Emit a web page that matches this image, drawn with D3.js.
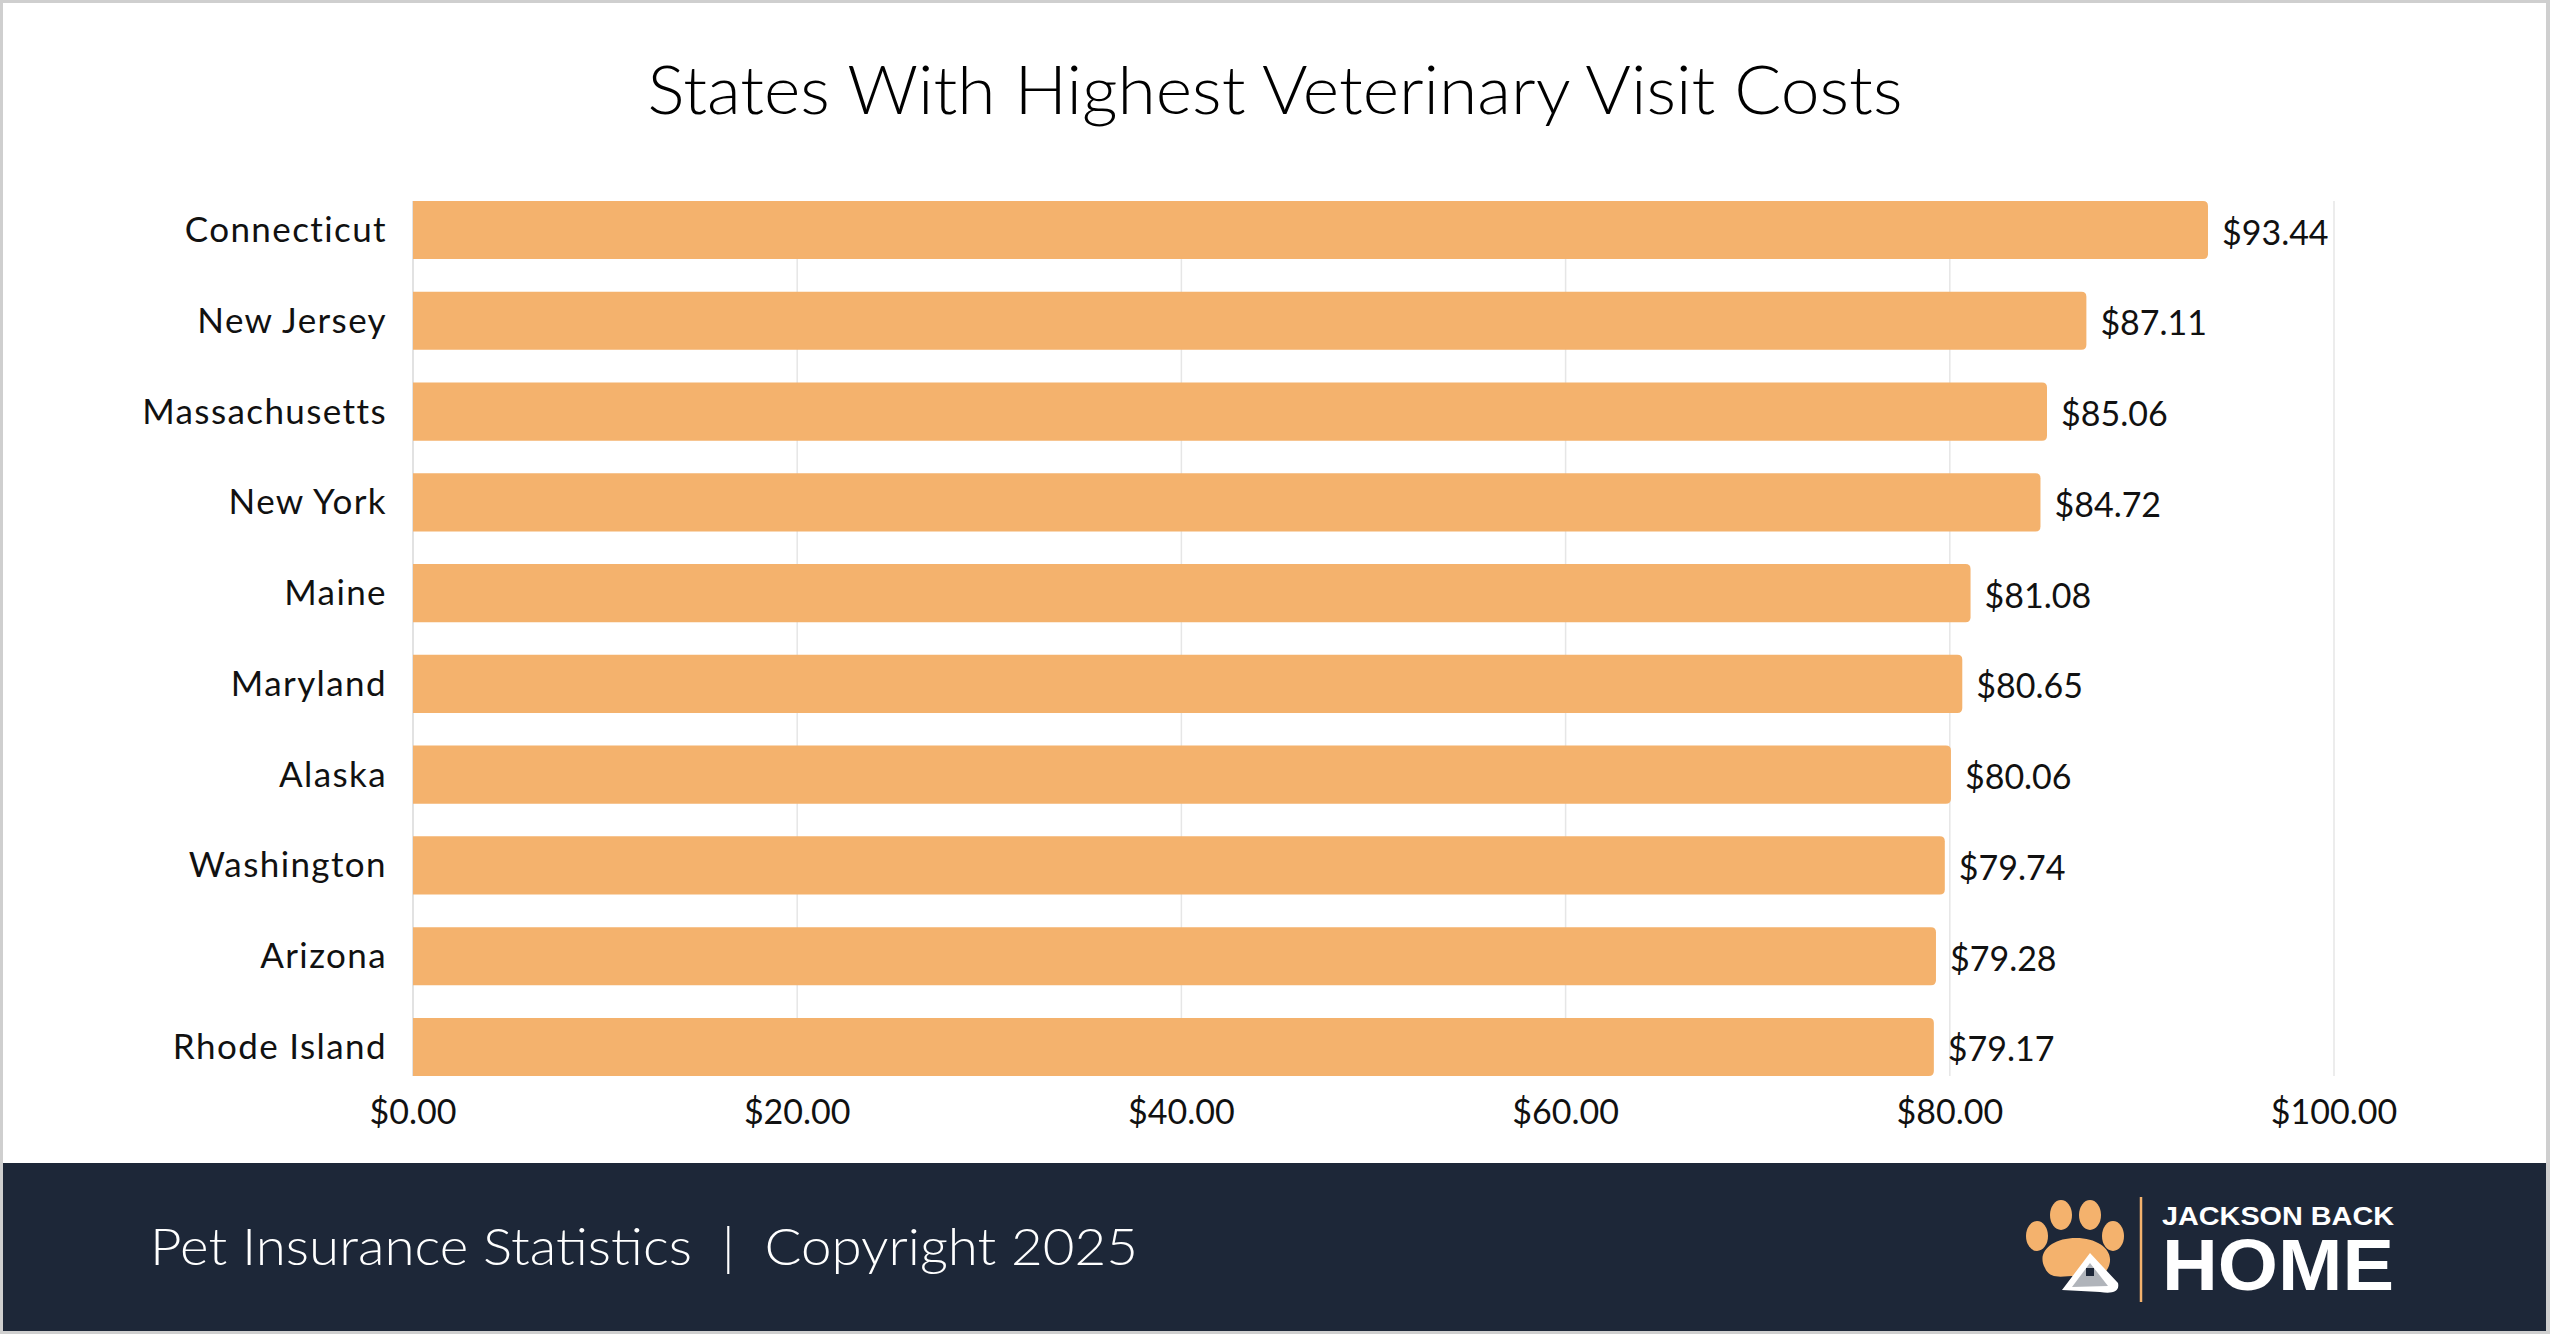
<!DOCTYPE html>
<html><head><meta charset="utf-8">
<script src="https://cdn.jsdelivr.net/npm/d3@7"></script>
<style>
html,body{margin:0;padding:0;background:#fff;}
svg{display:block;}
</style></head>
<body>
<script>
const categories = ["Connecticut","New Jersey","Massachusetts","New York","Maine","Maryland","Alaska","Washington","Arizona","Rhode Island"];
const values = [93.44, 87.11, 85.06, 84.72, 81.08, 80.65, 80.06, 79.74, 79.28, 79.17];
const xTicks = [0, 20, 40, 60, 80, 100];
const title = "States With Highest Veterinary Visit Costs";
const footerText = "Pet Insurance Statistics  |  Copyright 2025";

const W = 2550, H = 1334;
const FONT = "Lato, 'Open Sans', sans-serif";
const svg = d3.select("body").append("svg").attr("width", W).attr("height", H);

// frame
svg.append("rect").attr("x",0).attr("y",0).attr("width",W).attr("height",H).attr("fill","#cfcfcf");
svg.append("rect").attr("x",3).attr("y",3).attr("width",W-7).attr("height",H-6).attr("fill","#ffffff");

const x = d3.scaleLinear().domain([0,100]).range([413,2334]);
const y = d3.scaleBand().domain(categories).range([201,1076]).paddingInner(0.36).paddingOuter(0);

// gridlines
svg.append("g").selectAll("line").data(xTicks).join("line")
  .attr("x1", d=>x(d)).attr("x2", d=>x(d))
  .attr("y1", 201).attr("y2", 1076)
  .attr("stroke", d=> d===0 ? "#d9d9d9" : "#e6e6e6").attr("stroke-width", 1.5);

// bars with rounded right end
const r = 5;
svg.append("g").selectAll("path").data(categories).join("path")
  .attr("d", (c,i)=>{
    const x0 = x(0), x1 = x(values[i]), y0 = y(c), h = y.bandwidth();
    const p = d3.path();
    p.moveTo(x0, y0);
    p.lineTo(x1 - r, y0);
    p.quadraticCurveTo(x1, y0, x1, y0 + r);
    p.lineTo(x1, y0 + h - r);
    p.quadraticCurveTo(x1, y0 + h, x1 - r, y0 + h);
    p.lineTo(x0, y0 + h);
    p.closePath();
    return p.toString();
  })
  .attr("fill", "#F4B26D");

// value labels
svg.append("g").selectAll("text").data(categories).join("text")
  .attr("x", (c,i)=>x(values[i]) + 14)
  .attr("y", c=>y(c) + y.bandwidth()/2 + 1)
  .attr("dominant-baseline","central")
  .attr("font-family", FONT).attr("font-size", 34).attr("fill","#111")
  .text((c,i)=>"$" + values[i].toFixed(2));

// category labels
svg.append("g").selectAll("text").data(categories).join("text")
  .attr("x", 387)
  .attr("y", c=>y(c) + y.bandwidth()/2 - 2)
  .attr("dominant-baseline","central")
  .attr("text-anchor","end")
  .attr("font-family", FONT).attr("font-size", 35).attr("fill","#111")
  .attr("letter-spacing", 1.4)
  .text(c=>c);

// x axis tick labels
const fmt = d3.format("$.2f");
svg.append("g").selectAll("text").data(xTicks).join("text")
  .attr("x", d=>x(d)).attr("y", 1110)
  .attr("dominant-baseline","central")
  .attr("text-anchor","middle")
  .attr("font-family", FONT).attr("font-size", 34).attr("fill","#111")
  .text(d=>fmt(d));

// title
svg.append("text").attr("x", 1275).attr("y", 114)
  .attr("text-anchor","middle")
  .attr("font-family", FONT).attr("font-weight",300).attr("font-size", 67).attr("fill","#000")
  .attr("textLength", 1255).attr("lengthAdjust","spacingAndGlyphs")
  .text(title);

// footer
svg.append("rect").attr("x",3).attr("y",1163).attr("width",W-7).attr("height",H-3-1163).attr("fill","#1D2738");
svg.append("text").attr("x",150).attr("y",1265)
  .attr("font-family", FONT).attr("font-weight",300).attr("font-size", 52).attr("fill","#fff")
  .attr("textLength", 988).attr("lengthAdjust","spacingAndGlyphs")
  .attr("xml:space","preserve")
  .style("white-space","pre")
  .text(footerText);

// logo
const logo = svg.append("g");
const orange = "#F4B26D";
[[2037,1236,11,15],[2061,1215,11,15],[2090,1215,11,15],[2113,1236,11,15]].forEach(t=>{
  logo.append("ellipse").attr("cx",t[0]).attr("cy",t[1]).attr("rx",t[2]).attr("ry",t[3]).attr("fill",orange);
});
logo.append("path").attr("d","M2045,1268 C2036,1252 2052,1238 2076,1238 C2100,1238 2116,1252 2108,1268 C2102,1280 2088,1276 2076,1276 C2062,1276 2050,1280 2045,1268 Z").attr("fill",orange);
logo.append("path").attr("d","M2062,1290 L2090,1253 L2118,1283 C2120,1292 2112,1294 2100,1292 Z").attr("fill","#fff");
logo.append("path").attr("d","M2072,1287 L2090,1263 L2108,1286 Z").attr("fill","#1D2738").attr("opacity",0.35);
logo.append("rect").attr("x",2086).attr("y",1268).attr("width",8).attr("height",8).attr("fill","#1D2738");
logo.append("line").attr("x1",2141).attr("x2",2141).attr("y1",1197).attr("y2",1302).attr("stroke",orange).attr("stroke-width",2.5);
logo.append("text").attr("x",2162).attr("y",1225)
  .attr("font-family","'Liberation Sans', Arial, sans-serif").attr("font-weight",700).attr("font-size",26).attr("fill","#fff")
  .attr("textLength",232).attr("lengthAdjust","spacingAndGlyphs").text("JACKSON BACK");
logo.append("text").attr("x",2162).attr("y",1290)
  .attr("font-family","'Liberation Sans', Arial, sans-serif").attr("font-weight",700).attr("font-size",72).attr("fill","#fff")
  .attr("textLength",232).attr("lengthAdjust","spacingAndGlyphs").text("HOME");
</script>
</body></html>
